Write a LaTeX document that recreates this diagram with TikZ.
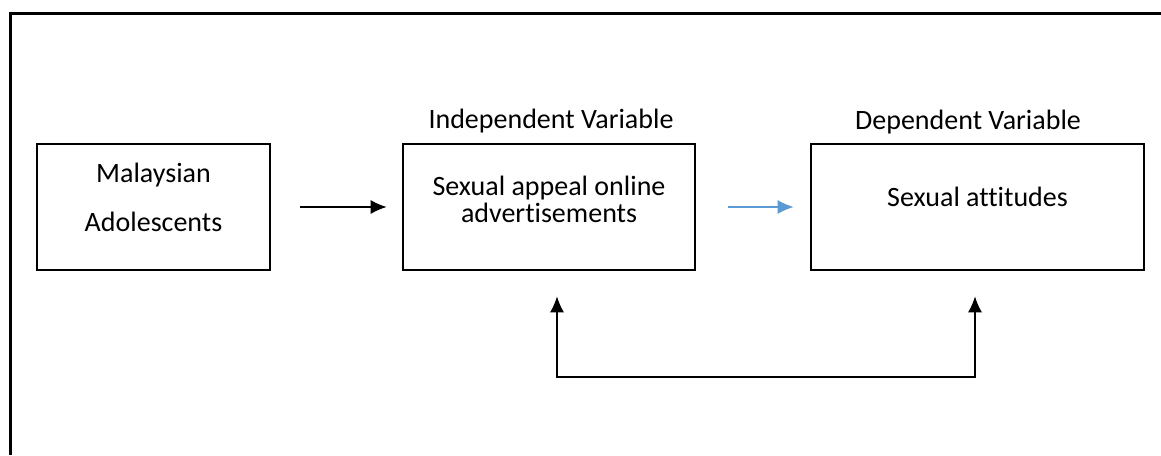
\documentclass[tikz,border=0pt]{standalone}
\usepackage{fontspec}
\setmainfont[Ligatures=NoCommon]{Carlito}
\usepackage{xcolor}
\definecolor{flowblue}{RGB}{91,155,213}
\usetikzlibrary{positioning, calc, arrows.meta}
\tikzstyle{Box} = [draw, line width=1.3pt, rectangle, inner sep=0pt]
\tikzstyle{Txt} = [align=center, font=\fontsize{14}{13.5}\selectfont]
\tikzstyle{Arrow} = [line width=0.75pt, -{Latex[length=8pt,width=7pt]}]

\begin{document}
\begin{tikzpicture}[x=0.5pt, y=-0.5pt]
        \useasboundingbox (0,0) rectangle (1161,455);
        % frame
        \draw[line width=1.5pt] (10.5,455) -- (10.5,13.5) -- (1161,13.5);

        \node [Box, minimum width=116.5pt, minimum height=63pt] (mal) at (153.5,207) {};
        \node [Box, minimum width=146pt, minimum height=63pt] (adv) at (549,207) {};
        \node [Box, minimum width=166.5pt, minimum height=63pt] (att) at (977.5,207) {};

        \node [Txt] (maltext) at ([yshift=5pt]mal.center) {Malaysian\\[11pt]Adolescents};
        \node [Txt] (advtext) at ([yshift=4pt]adv.center) {Sexual appeal online\\advertisements};
        \node [Txt] (atttext) at ([yshift=5pt]att.center) {Sexual attitudes};

        \node [Txt, above=1.5pt of adv.north, xshift=1pt] (indep) {Independent Variable};
        \node [Txt, above=1pt of att.north, xshift=-4.75pt] (dep) {Dependent Variable};

        \coordinate (loopL) at (557,377);
        \coordinate (loopR) at (975,377);

        \draw[Arrow, shorten <=14.5pt, shorten >=7.5pt] (mal.east) -- (adv.west);
        \draw[Arrow, flowblue, shorten <=16pt, shorten >=8pt] (adv.east) -- (att.west);
        \draw[Arrow, {Latex[length=8pt,width=7pt]}-{Latex[length=8pt,width=7pt]}, shorten <=12.5pt, shorten >=12.5pt]
            (loopL |- adv.south) -- (loopL) -- (loopR) -- (loopR |- att.south);
\end{tikzpicture}
\end{document}
